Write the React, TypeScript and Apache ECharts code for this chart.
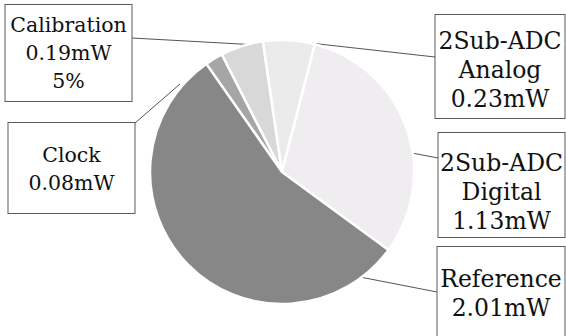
import React, { useEffect, useRef } from "react";
import * as echarts from "echarts";

// Data (power breakdown, mW), in clockwise order from the upper-left
const categories = ["Clock", "Calibration", "2Sub-ADC\nAnalog", "2Sub-ADC\nDigital", "Reference"];
const powerMW = [0.08, 0.19, 0.23, 1.13, 2.01];
const extraNotes = ["", "5%", "", "", ""];

// Styling / layout (kept apart from the data)
const sliceColors = ["#a6a6a6", "#d8d8d8", "#ebebeb", "#efedf0", "#878787"];
const FONT = "DejaVu Serif";
// box: centre x, top y, inner width, padding, font size, line height, label line points
const boxLayout = [
  { cx: 71.5, top: 123, w: 126, pad: [18, 0, 16, 0], fs: 20.5, lh: 28, line: [[180, 84], [135, 123]] },
  { cx: 68.5, top: 5, w: 126, pad: [6, 0, 6, 0], fs: 20.5, lh: 28, line: [[258, 45], [132, 38]] },
  { cx: 500, top: 15, w: 129, pad: [11, 0, 5, 0], fs: 23.5, lh: 29, line: [[310, 43], [435, 57]] },
  { cx: 501.5, top: 133, w: 126, pad: [15, 0, 2, 0], fs: 23.5, lh: 29, line: [[412, 153], [438, 158]] },
  { cx: 501, top: 247, w: 127, pad: [17, 0, 30, 0], fs: 23.5, lh: 29, line: [[360, 277], [437, 292]] },
];

export default function App() {
  const ref = useRef<HTMLDivElement>(null);
  useEffect(() => {
    if (!ref.current) return;
    const chart = echarts.init(ref.current, null, { renderer: "svg" });
    const data = categories.map((name, i) => ({
      name,
      value: powerMW[i],
      itemStyle: { color: sliceColors[i] },
      label: {
        fontFamily: FONT,
        fontSize: boxLayout[i].fs,
        lineHeight: boxLayout[i].lh,
        width: boxLayout[i].w,
        padding: boxLayout[i].pad,
      },
    }));
    chart.setOption({
      animation: false,
      backgroundColor: "#ffffff",
      series: [
        {
          type: "pie",
          center: [282, 172],
          radius: [0, 132],
          startAngle: 125,
          clockwise: true,
          avoidLabelOverlap: false,
          itemStyle: { borderColor: "#ffffff", borderWidth: 2.5 },
          emphasis: { disabled: true },
          label: {
            show: true,
            position: "outside",
            fontFamily: FONT,
            color: "#111",
            align: "center",
            overflow: "none",
            backgroundColor: "#ffffff",
            borderColor: "#5a5a5a",
            borderWidth: 1,
            formatter: (p: any) => {
              const i = p.dataIndex;
              const lines = [categories[i], powerMW[i].toFixed(2) + "mW"];
              if (extraNotes[i]) lines.push(extraNotes[i]);
              return lines.join("\n");
            },
          },
          labelLine: {
            show: true,
            lineStyle: { color: "#555", width: 1 },
          },
          labelLayout: (params: any) => {
            const b = boxLayout[params.dataIndex];
            return {
              x: b.cx,
              y: b.top,
              align: "center",
              verticalAlign: "top",
              labelLinePoints: b.line,
            };
          },
          data,
        },
      ],
    });
    return () => chart.dispose();
  }, []);
  return (
    <div
      ref={ref}
      style={{ position: "fixed", left: 0, top: 0, width: 566, height: 336 }}
    />
  );
}
